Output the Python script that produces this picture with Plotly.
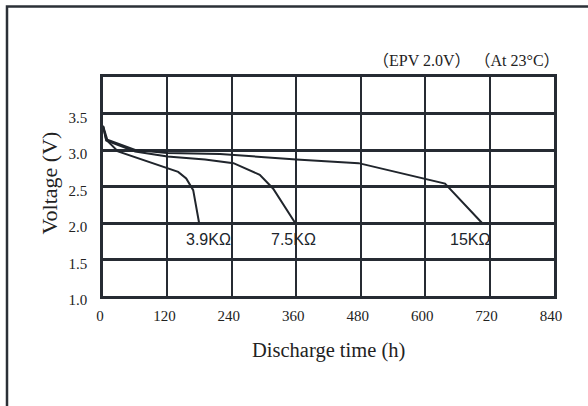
import plotly.graph_objects as go

# Discharge curves (time in hours, voltage in V)
t_3k9 = [0, 6, 28, 121, 140, 155, 168, 179]
v_3k9 = [3.33, 3.14, 2.98, 2.75, 2.70, 2.61, 2.45, 2.00]

t_7k5 = [0, 6, 60, 120, 190, 243, 292, 317, 358]
v_7k5 = [3.33, 3.13, 2.98, 2.91, 2.87, 2.82, 2.66, 2.47, 2.00]

t_15k = [0, 8, 60, 120, 218, 360, 476, 637, 706]
v_15k = [3.33, 3.14, 3.00, 2.96, 2.945, 2.87, 2.82, 2.54, 2.00]

series_names = ["3.9KΩ", "7.5KΩ", "15KΩ"]
x_ticks = [0, 120, 240, 360, 480, 600, 720, 840]
y_ticks = [1.0, 1.5, 2.0, 2.5, 3.0, 3.5]
y_ticktext = ["1.0", "1.5", "2.0", "2.5", "3.0", "3.5"]

W, H = 588, 406
L, R, T, B = 103, 554, 77, 296  # plot area in pixels


def px(x):
    return (x - L) / (R - L)


def py(y):
    return (B - y) / (B - T)


ink = "#20252c"
grid = "#262b33"

fig = go.Figure()
for t, v, n in zip([t_3k9, t_7k5, t_15k], [v_3k9, v_7k5, v_15k], series_names):
    fig.add_trace(go.Scatter(x=t, y=v, mode="lines", name=n,
                             line=dict(color=ink, width=2), showlegend=False))

serif = "Liberation Serif, Times New Roman, serif"

fig.update_layout(
    width=W, height=H,
    margin=dict(l=L, r=W - R, t=T, b=H - B),
    paper_bgcolor="white", plot_bgcolor="white",
    xaxis=dict(range=[0, 840], tickvals=x_ticks, ticktext=[str(v) for v in x_ticks],
               showgrid=True, gridcolor=grid, gridwidth=2,
               showline=True, mirror=True, linecolor=grid, linewidth=2.5,
               zeroline=False, ticks="", ticklabelshift=-3, ticklabelstandoff=4,
               tickfont=dict(family=serif, size=15, color="#222")),
    yaxis=dict(range=[1.0, 4.0], tickvals=y_ticks, ticktext=y_ticktext,
               showgrid=True, gridcolor=grid, gridwidth=2.5,
               showline=True, mirror=True, linecolor=grid, linewidth=2.5,
               zeroline=False, ticks="", ticklabelshift=4, ticklabelstandoff=10,
               tickfont=dict(family=serif, size=15, color="#222")),
    shapes=[dict(type="path", xref="paper", yref="paper",
                 path=f"M {px(7)} {py(406)} L {px(7)} {py(6.5)} L {px(588)} {py(6.5)}",
                 line=dict(color="#2b3037", width=2.5))],
)

note = "（EPV 2.0V） （At 23°C）"

annotations = [
    dict(text="Voltage (V)", x=px(49), y=py(183.5), textangle=-90,
         font=dict(family=serif, size=22, color="#222")),
    dict(text="Discharge time (h)", x=px(328.6), y=py(350),
         font=dict(family=serif, size=20.5, color="#222")),
    dict(text=note, x=px(562), y=py(60), xanchor="right",
         font=dict(family=serif + ", Noto Sans CJK SC", size=16, color="#222")),
]
label_x = [196, 355, 683]
for n, lx in zip(series_names, label_x):
    annotations.append(dict(text=n, x=lx, y=1.776, xref="x", yref="y",
                            font=dict(family="Liberation Sans, Arial, sans-serif", size=16, color=ink)))
for a in annotations:
    a.setdefault("xref", "paper")
    a.setdefault("yref", "paper")
    a.setdefault("xanchor", "center")
    a.setdefault("yanchor", "middle")
    a["showarrow"] = False
fig.update_layout(annotations=annotations)

fig.write_html("out.html", config={"displayModeBar": False},
               post_script="document.body.style.margin='0px';document.body.style.overflow='hidden';")
